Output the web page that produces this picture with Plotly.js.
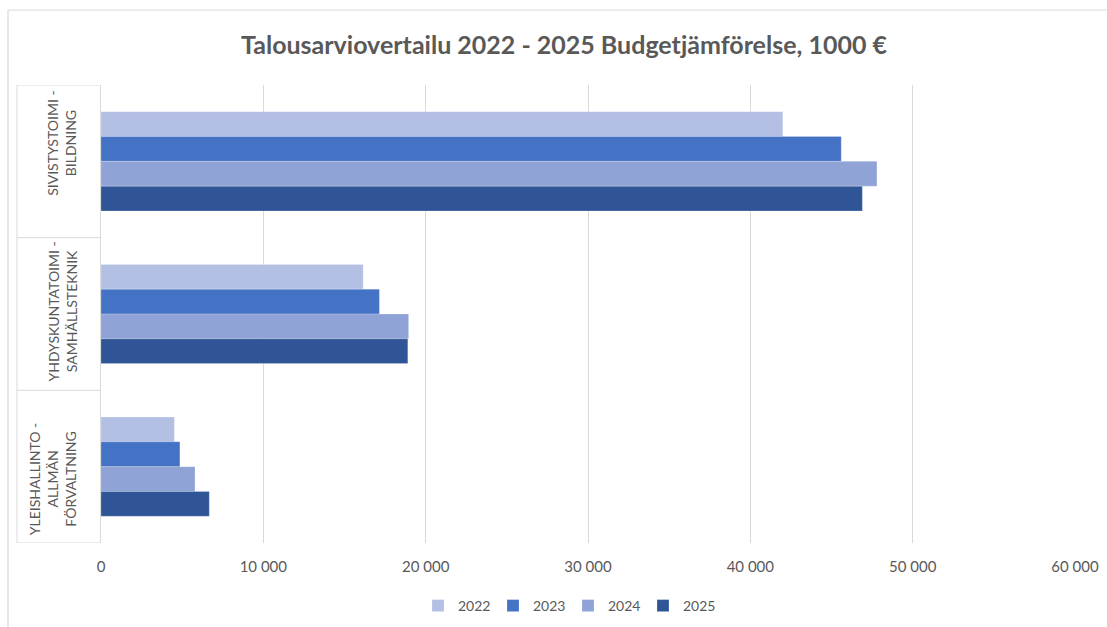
<!DOCTYPE html>
<html>
<head>
<meta charset="utf-8">
<script src="https://cdn.plot.ly/plotly-3.0.1.min.js"></script>
<style>
  html, body { margin: 0; padding: 0; background: #ffffff; }
  #chart { width: 1107px; height: 627px; }
</style>
</head>
<body>
<div id="chart"></div>
<script>
// ---- data ----
const categories = [
  "SIVISTYSTOIMI -<br>BILDNING",
  "YHDYSKUNTATOIMI -<br>SAMHÄLLSTEKNIK",
  "YLEISHALLINTO -<br>ALLMÄN<br>FÖRVALTNING"
];
const years = ["2022", "2023", "2024", "2025"];
const values2022 = [42000, 16150, 4520];
const values2023 = [45600, 17150, 4860];
const values2024 = [47800, 18950, 5790];
const values2025 = [46900, 18900, 6670];
const seriesValues = [values2022, values2023, values2024, values2025];
const xTicks = [0, 10000, 20000, 30000, 40000, 50000, 60000];

// ---- styles ----
const colors = ["#b4bfe4", "#4472c4", "#8fa3d6", "#2f5597"];
const textColor = "#595959";
const lineColor = "#d9d9d9";
const fontFamily = "Lato, 'Open Sans', sans-serif";

const ML = 101, MR = 32, MT = 85, MB = 84, W = 1107, H = 627;
const PW = W - ML - MR, PH = H - MT - MB;
const px2x = p => (p - ML) / PW;
const px2y = p => (H - MB - p) / PH;

const catIdx = categories.map((c, i) => i);

const traces = years.map((yr, i) => ({
  type: "bar",
  orientation: "h",
  name: yr,
  y: catIdx,
  x: seriesValues[i],
  marker: { color: colors[i], line: { width: 0.6, color: "rgba(255,255,255,0.35)" } },
  hoverinfo: "x+name"
}));

const shapes = [];
// category box: left border and horizontal dividers
const boxLeft = px2x(17);
shapes.push({ type: "line", xref: "paper", yref: "y", x0: boxLeft, x1: boxLeft,
  y0: -0.5, y1: categories.length - 0.5, line: { color: lineColor, width: 1 } });
for (let k = 0; k <= categories.length; k++) {
  shapes.push({ type: "line", xref: "paper", yref: "y", x0: boxLeft, x1: 0,
    y0: k - 0.5, y1: k - 0.5, line: { color: lineColor, width: 1 } });
}
// outer chart border (left and top visible)
shapes.push({ type: "line", xref: "paper", yref: "paper", x0: px2x(8), x1: px2x(8),
  y0: px2y(640), y1: px2y(10), line: { color: lineColor, width: 1.2 } });
shapes.push({ type: "line", xref: "paper", yref: "paper", x0: px2x(8), x1: px2x(1120),
  y0: px2y(10), y1: px2y(10), line: { color: lineColor, width: 1.2 } });

const labelShift = [18, 2, -12];
const annotations = categories.map((c, i) => ({
  xref: "paper", yref: "y",
  x: px2x(81), y: i,
  xanchor: "right", yanchor: "middle",
  text: c, showarrow: false, textangle: -90,
  yshift: labelShift[i],
  font: { family: fontFamily, size: 14, color: textColor }
}));

const layout = {
  width: W, height: H,
  margin: { l: ML, r: MR, t: MT, b: MB, pad: 0 },
  paper_bgcolor: "#ffffff",
  plot_bgcolor: "#ffffff",
  separators: ", ",
  title: {
    text: "<b>Talousarviovertailu 2022 - 2025 Budgetjämförelse, 1000 €</b>",
    x: 564 / W, xref: "container", xanchor: "center",
    y: 1 - 45 / H, yanchor: "middle",
    font: { family: fontFamily, size: 25, color: textColor }
  },
  barmode: "group",
  bargap: 0.35,
  bargroupgap: 0,
  xaxis: {
    range: [0, 60000],
    tickvals: xTicks,
    tickformat: ",d",
    showgrid: true, gridcolor: lineColor, gridwidth: 1,
    zeroline: false,
    showline: false,
    ticks: "",
    ticklabelstandoff: 13,
    tickfont: { family: fontFamily, size: 15, color: textColor },
    fixedrange: true
  },
  yaxis: {
    type: "linear",
    range: [categories.length - 0.5, -0.5],
    showticklabels: false,
    showgrid: false,
    zeroline: false,
    showline: true, linecolor: lineColor, linewidth: 1,
    ticks: "",
    fixedrange: true
  },
  legend: {
    orientation: "h",
    x: 568 / W, xref: "container",
    xanchor: "center",
    y: 1 - 606 / H, yref: "container", yanchor: "middle",
    font: { family: fontFamily, size: 14, color: textColor },
    traceorder: "normal",
    itemwidth: 30,
    entrywidth: 30
  },
  shapes: shapes,
  annotations: annotations,
  showlegend: true
};

Plotly.newPlot("chart", traces, layout, { displayModeBar: false, staticPlot: true });
</script>
</body>
</html>
